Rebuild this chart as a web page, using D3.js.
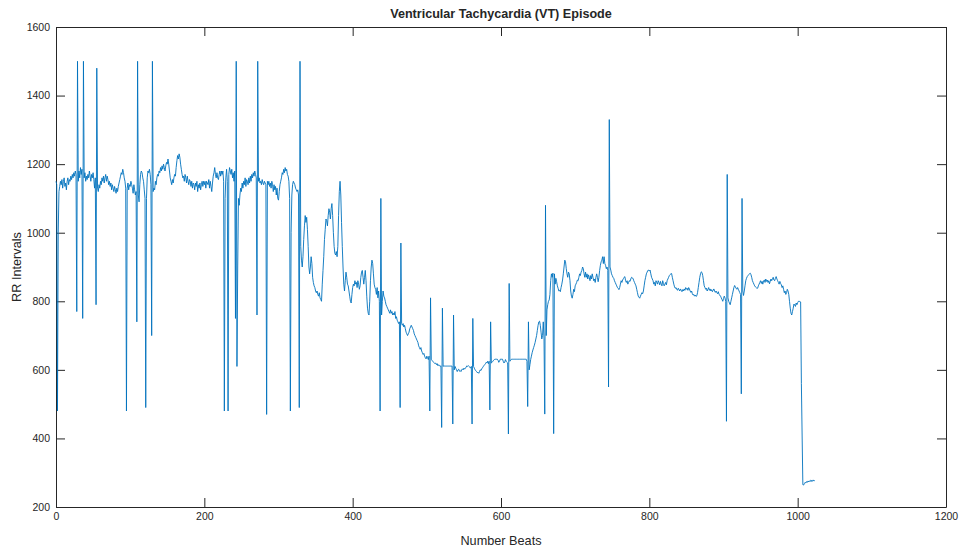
<!DOCTYPE html>
<html>
<head>
<meta charset="utf-8">
<script src="https://cdn.jsdelivr.net/npm/d3@7"></script>
<style>
  body { margin: 0; background: #fff; }
  text { font-family: "Liberation Sans", Arial, sans-serif; fill: #262626; }
</style>
</head>
<body>
<svg id="chart"></svg>
<script>
// RR intervals per beat (20 values per row)
const rrIntervals = [
  1150,1140,480,1000,1120,1135,1150,1140,1155,1130,1150,1160,1135,1145,1125,1150,1160,1140,1155,1150,
  1165,1155,1170,1160,1175,1165,1180,1170,770,1500,1150,1180,1160,1190,1170,1185,750,1500,1160,1175,
  1150,1165,1155,1170,1160,1180,1165,1150,1170,1160,1175,1155,1130,1160,790,1480,1130,1120,1140,1130,
  1150,1140,1160,1150,1165,1145,1160,1170,1150,1165,1155,1140,1150,1135,1145,1125,1140,1130,1120,1135,
  1125,1115,1130,1120,1135,1145,1155,1165,1175,1170,1185,1175,1160,1150,1130,480,1130,1145,1125,1140,
  1135,1150,1140,1130,1115,1140,1125,1110,1120,740,1500,1110,1090,1140,1170,1180,1175,1160,1150,1125,
  1100,490,1100,1160,1180,1175,1185,1170,1140,700,1500,1120,1130,1125,1150,1140,1160,1170,1165,1180,
  1175,1190,1180,1195,1185,1200,1190,1180,1195,1205,1200,1215,1200,1180,1160,1150,1140,1155,1145,1160,
  1170,1165,1190,1210,1225,1215,1230,1220,1200,1185,1170,1160,1165,1150,1170,1160,1145,1165,1150,1140,
  1155,1150,1135,1150,1130,1145,1140,1125,1145,1135,1150,1120,1140,1130,1145,1125,1140,1150,1135,1150,
  1140,1150,1130,1150,1145,1140,1155,1130,1150,1135,1120,1145,1165,1175,1190,1170,1160,1175,1160,1155,
  1170,1180,1165,1180,1170,1180,1150,480,1100,1160,1185,1150,480,1170,1190,1180,1170,1185,1160,1175,
  1150,1180,750,1500,610,900,1100,1080,1110,1130,1120,1145,1130,1150,1140,1160,1135,1155,1150,1140,
  1160,1145,1165,1150,1170,1160,1175,1165,1180,1170,1160,760,1500,1150,1160,1145,1150,1140,1155,1145,
  1140,1150,1145,1140,470,1150,1140,1150,1135,1145,1130,1150,1140,1120,1140,1125,1135,1110,1130,1100,
  1095,1120,1140,1150,1160,1175,1170,1185,1175,1190,1180,1185,1170,1165,1150,1100,480,1000,1110,1140,
  1150,1145,1140,1130,1125,1120,1125,1110,490,1500,960,920,900,930,980,1020,1050,1030,1045,1010,
  960,900,880,900,930,910,870,855,845,840,830,825,830,820,815,825,810,805,800,850,
  890,930,980,1010,1040,1035,1020,1050,1070,1060,1040,1070,1085,1050,1000,960,940,935,945,930,
  960,1050,1120,1150,1110,1030,960,900,850,830,860,885,870,850,845,830,815,800,795,820,
  840,850,845,860,850,855,840,860,850,835,845,870,885,890,870,850,870,890,860,815,
  780,765,760,800,860,900,920,910,880,850,840,835,820,840,810,830,800,480,1100,760,
  800,830,815,810,800,790,785,780,775,770,765,775,765,770,760,765,760,770,750,755,
  745,740,735,740,490,970,735,730,735,725,730,720,710,705,700,705,710,720,725,730,
  725,720,715,705,700,695,690,685,680,670,665,660,665,655,650,645,648,640,635,632,
  640,635,630,640,480,810,630,628,625,622,620,618,620,615,618,612,615,612,610,612,
  432,780,610,612,611,611,611,611,611,611,611,611,611,611,611,442,760,600,610,605,
  600,595,600,602,596,598,595,600,603,600,605,602,605,608,612,610,612,610,608,605,
  610,442,750,610,605,600,598,595,592,593,590,595,600,598,603,606,610,612,615,618,
  622,620,625,618,625,483,740,620,622,625,628,630,631,631,631,631,628,622,625,631,
  631,631,631,625,620,622,630,625,622,620,413,852,625,628,631,631,631,631,631,631,
  631,631,631,631,631,631,631,631,631,631,631,631,631,631,631,625,493,740,600,615,
  630,640,650,658,665,672,680,690,700,715,730,740,742,730,710,690,700,740,690,471,
  1080,700,775,790,800,804,820,860,880,870,882,414,880,850,867,857,845,838,830,832,
  828,840,850,862,880,900,920,915,895,880,870,885,880,860,830,815,809,820,835,828,
  845,850,855,862,860,870,880,875,885,890,900,895,880,870,885,870,880,865,877,870,
  860,875,865,880,870,860,865,855,870,880,870,857,870,890,905,915,920,930,910,930,
  910,905,895,900,890,550,1330,900,891,880,875,870,867,860,855,850,845,840,838,834,
  840,850,860,855,862,866,870,872,860,855,860,850,855,860,858,865,870,868,867,860,
  855,850,845,835,825,815,812,809,815,820,825,822,830,845,860,870,880,885,890,891,
  888,891,880,870,865,860,850,855,845,860,855,850,860,855,848,858,850,845,860,852,
  845,850,855,848,860,865,870,875,878,880,881,870,860,850,842,838,840,835,832,838,
  834,830,836,832,828,834,830,836,832,840,835,838,832,840,836,830,826,830,822,818,
  820,815,818,814,816,825,840,855,870,880,886,884,875,860,845,840,835,838,830,835,
  840,832,836,830,834,828,832,836,830,826,830,825,822,828,820,818,815,810,805,800,
  808,815,810,800,450,1170,810,800,795,790,800,810,820,830,840,846,842,838,835,840,
  835,830,825,820,530,1100,830,817,830,845,860,867,872,875,878,880,882,878,870,860,
  855,850,845,842,840,838,838,845,850,855,860,852,858,850,860,862,855,865,858,862,
  855,860,851,858,865,860,866,870,862,860,867,872,865,860,855,850,858,852,848,840,
  845,835,825,830,820,825,835,830,820,800,780,765,760,770,780,792,789,785,795,790,
  796,800,799,800,798,560,410,265,264,268,272,270,274,272,276,273,276,278,274,278,
  275,279,276,277
];
const beatNumbers = rrIntervals.map((d, i) => i);

const xTicks = [0, 200, 400, 600, 800, 1000, 1200];
const yTicks = [200, 400, 600, 800, 1000, 1200, 1400, 1600];

const chartTitle = "Ventricular Tachycardia (VT) Episode";
const xLabel = "Number Beats";
const yLabel = "RR Intervals";

const W = 962, H = 551;
const margin = {top: 27, right: 16, bottom: 44, left: 56};
const width = W - margin.left - margin.right;
const height = H - margin.top - margin.bottom;
const tickLen = 9;

const svg = d3.select("#chart")
  .attr("width", W)
  .attr("height", H);

const g = svg.append("g")
  .attr("transform", "translate(" + margin.left + "," + margin.top + ")");

const xScale = d3.scaleLinear().domain([0, 1200]).range([0, width]);
const yScale = d3.scaleLinear().domain([200, 1600]).range([height, 0]);

// bottom + left with labels, top + right ticks only (MATLAB box)
g.append("g")
  .attr("transform", "translate(0," + height + ")")
  .call(d3.axisBottom(xScale).tickValues(xTicks).tickSizeInner(-tickLen).tickSizeOuter(0).tickPadding(6).tickFormat(d3.format("d")));

g.append("g")
  .call(d3.axisLeft(yScale).tickValues(yTicks).tickSizeInner(-tickLen).tickSizeOuter(0).tickPadding(6).tickFormat(d3.format("d")));

g.append("g")
  .call(d3.axisTop(xScale).tickValues(xTicks).tickSizeInner(-tickLen).tickSizeOuter(0).tickFormat(""));

g.append("g")
  .attr("transform", "translate(" + width + ",0)")
  .call(d3.axisRight(yScale).tickValues(yTicks).tickSizeInner(-tickLen).tickSizeOuter(0).tickFormat(""));

g.selectAll(".domain").attr("stroke", "#262626").attr("stroke-width", 1);
g.selectAll(".tick line").attr("stroke", "#262626").attr("stroke-width", 1);
g.selectAll(".tick text")
  .attr("font-family", "Liberation Sans, Arial, sans-serif")
  .attr("font-size", "10.5px")
  .attr("fill", "#262626");

const line = d3.line()
  .x((d, i) => xScale(beatNumbers[i]))
  .y(d => yScale(d));

g.append("path")
  .datum(rrIntervals)
  .attr("fill", "none")
  .attr("stroke", "#0072BD")
  .attr("stroke-width", 0.9)
  .attr("stroke-linejoin", "round")
  .attr("d", line);

svg.append("text")
  .attr("x", margin.left + width / 2)
  .attr("y", 18)
  .attr("text-anchor", "middle")
  .attr("font-size", "12.6px")
  .attr("font-weight", "bold")
  .attr("fill", "#000")
  .text(chartTitle);

svg.append("text")
  .attr("x", margin.left + width / 2)
  .attr("y", 545)
  .attr("text-anchor", "middle")
  .attr("font-size", "12.7px")
  .text(xLabel);

svg.append("text")
  .attr("transform", "translate(21," + (margin.top + height / 2) + ") rotate(-90)")
  .attr("text-anchor", "middle")
  .attr("font-size", "12.7px")
  .text(yLabel);
</script>
</body>
</html>
